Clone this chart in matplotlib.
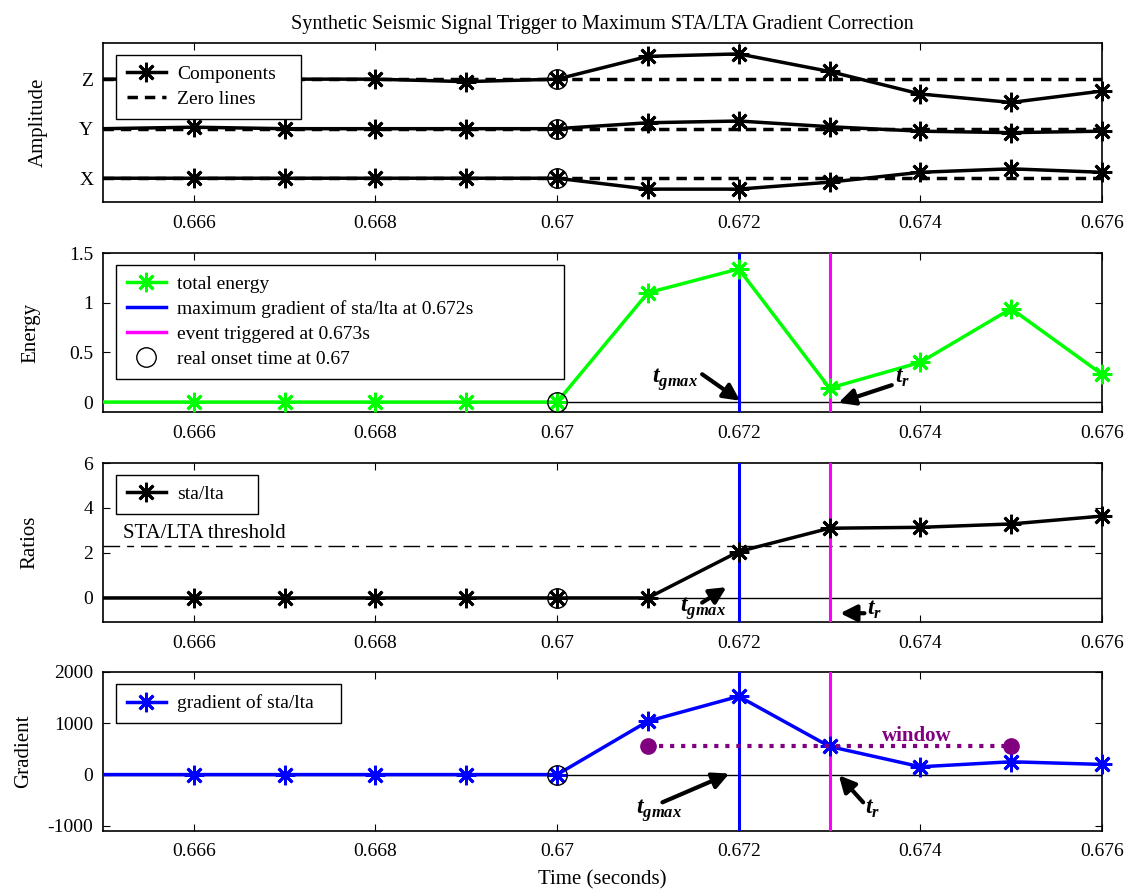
import numpy as np
import matplotlib.pyplot as plt
from matplotlib.lines import Line2D

plt.rcParams['font.family'] = ['Liberation Serif', 'DejaVu Serif']
plt.rcParams['mathtext.fontset'] = 'custom'
plt.rcParams['mathtext.bf'] = 'Liberation Serif:italic:bold'
plt.rcParams['font.size'] = 14
plt.rcParams['axes.unicode_minus'] = False

# sample times (s)
time = [0.665, 0.666, 0.667, 0.668, 0.669, 0.670, 0.671, 0.672, 0.673, 0.674, 0.675, 0.676]

# three components, each plotted around its own offset
comp_names = ['X', 'Y', 'Z']
comp_offsets = [1, 2, 3]
comp_x = [0, 0, 0, 0, 0, 0, -0.22, -0.22, -0.08, 0.12, 0.19, 0.12]
comp_y = [0, 0.03, 0, 0, 0, 0, 0.12, 0.155, 0.04, -0.05, -0.08, -0.05]
comp_z = [0, 0, 0, 0, -0.05, 0, 0.46, 0.51, 0.155, -0.30, -0.47, -0.24]

energy = [0, 0, 0, 0, 0, 0, 1.10, 1.34, 0.14, 0.40, 0.94, 0.28]
ratio = [0, 0, 0, 0, 0, 0, 0, 2.06, 3.10, 3.14, 3.29, 3.64]
gradient = [0, 0, 0, 0, 0, 0, 1040, 1525, 548, 152, 250, 198]

threshold = 2.3
t_onset = 0.670
t_gmax = 0.672
t_trig = 0.673
window_t = [0.671, 0.675]
window_level = 548

ast = (8, 2, 0)
MS = 14
GREEN = '#00ff00'
BLUE = '#0000ff'
MAGENTA = '#ff00ff'
PURPLE = '#800080'

fig = plt.figure(figsize=(11.36, 8.92), dpi=100)
L, W, H = 103 / 1136, 999 / 1136, 159 / 892
bottoms = [1 - 202 / 892, 1 - 412 / 892, 1 - 622 / 892, 1 - 831 / 892]
axes = [fig.add_axes([L, b, W, H]) for b in bottoms]

xt = [0.666, 0.668, 0.670, 0.672, 0.674, 0.676]
xtl = ['0.666', '0.668', '0.67', '0.672', '0.674', '0.676']
for ax in axes:
    ax.set_xlim(0.665, 0.676)
    ax.set_xticks(xt)
    ax.set_xticklabels(xtl)
    ax.tick_params(direction='in', top=True, right=True, length=5, pad=7, labelsize=14)
    ax.tick_params(axis='x', pad=9)
    for s in ax.spines.values():
        s.set_linewidth(1.2)


def series(ax, y, color, lw=2.5):
    ax.plot(time, y, color=color, lw=lw, zorder=3)
    ax.plot(time[1:], y[1:], ls='none', marker=ast, ms=MS, mew=2,
            color=color, clip_on=False, zorder=4)


def onset(ax, y):
    ax.plot([t_onset], [y], ls='none', marker='o', ms=14, mfc='none',
            mec='k', mew=1, clip_on=False, zorder=5)


def legend(ax, handles, labels, width):
    leg = ax.legend(handles, labels, loc='upper left', mode='expand',
                    bbox_to_anchor=(0.013, 0, width, 0.925),
                    borderaxespad=0, fancybox=False, framealpha=1, edgecolor='k',
                    fontsize=14, handlelength=2.0, handletextpad=0.6,
                    labelspacing=0.37, borderpad=0.55)
    leg.set_zorder(10)


arrow = dict(arrowstyle='-|>,head_length=0.7,head_width=0.35', lw=3, color='k',
             shrinkA=0, shrinkB=0, mutation_scale=14)


def tag(ax, label, text_xy, tail, head):
    ax.annotate('', xy=head, xytext=tail, arrowprops=arrow, zorder=6)
    ax.text(text_xy[0], text_xy[1], label, ha='left', va='baseline',
            fontsize=17, zorder=6)


gmax_lbl = r'$\mathbf{t}_{\mathbf{gmax}}$'
trig_lbl = r'$\mathbf{t}_{\mathbf{r}}$'

# --- components
ax = axes[0]
for off, comp in zip(comp_offsets, [comp_x, comp_y, comp_z]):
    ax.axhline(off, color='k', ls=(0, (3, 2)), lw=2.5, zorder=2)
    series(ax, [off + v for v in comp], 'k')
    onset(ax, off)
ax.set_ylim(0.52, 3.73)
ax.set_yticks(comp_offsets)
ax.set_yticklabels(comp_names)
ax.set_ylabel('Amplitude', fontsize=15)
ax.yaxis.set_label_coords(-0.055, 0.5)
ax.set_title('Synthetic Seismic Signal Trigger to Maximum STA/LTA Gradient Correction',
             fontsize=14.5, pad=10)
legend(ax, [Line2D([], [], color='k', lw=2.5, marker=ast, ms=MS, mew=2),
            Line2D([], [], color='k', lw=2.5, ls=(0, (3, 2)))],
       ['Components', 'Zero lines'], 0.185)

# --- energy
ax = axes[1]
ax.axhline(0, color='k', lw=1, zorder=2)
series(ax, energy, GREEN)
ax.axvline(t_gmax, color=BLUE, lw=2.2, zorder=3)
ax.axvline(t_trig, color=MAGENTA, lw=2.2, zorder=3)
onset(ax, 0)
ax.set_ylim(-0.1, 1.5)
ax.set_yticks([0, 0.5, 1, 1.5])
ax.set_yticklabels(['0', '0.5', '1', '1.5'])
ax.set_ylabel('Energy', fontsize=15)
ax.yaxis.set_label_coords(-0.063, 0.5)
tag(ax, gmax_lbl, (0.67104, 0.19), (0.671597, 0.28), (0.672015, 0.013))
tag(ax, trig_lbl, (0.67372, 0.19), (0.673685, 0.17), (0.673098, -0.007))
legend(ax, [Line2D([], [], color=GREEN, lw=2.5, marker=ast, ms=MS, mew=2),
            Line2D([], [], color=BLUE, lw=2.5),
            Line2D([], [], color=MAGENTA, lw=2.5),
            Line2D([], [], ls='none', marker='o', ms=14, mfc='none', mec='k', mew=1)],
       ['total energy', 'maximum gradient of sta/lta at 0.672s',
        'event triggered at 0.673s', 'real onset time at 0.67'], 0.448)

# --- sta/lta
ax = axes[2]
ax.axhline(0, color='k', lw=1, zorder=2)
ax.axhline(threshold, color='k', lw=1, ls=(0, (12, 5, 5, 5)), zorder=2)
ax.text(0.66522, threshold + 0.15, 'STA/LTA threshold', ha='left', va='bottom', fontsize=15)
series(ax, ratio, 'k')
ax.axvline(t_gmax, color=BLUE, lw=2.2, zorder=3)
ax.axvline(t_trig, color=MAGENTA, lw=2.2, zorder=3)
onset(ax, 0)
ax.set_ylim(-1.07, 6)
ax.set_yticks([0, 2, 4, 6])
ax.set_ylabel('Ratios', fontsize=15)
ax.yaxis.set_label_coords(-0.064, 0.5)
tag(ax, gmax_lbl, (0.671355, -0.62), (0.671597, -0.21), (0.671865, 0.48))
tag(ax, trig_lbl, (0.673414, -0.76), (0.673384, -0.68), (0.673117, -0.68))
legend(ax, [Line2D([], [], color='k', lw=2.5, marker=ast, ms=MS, mew=2)],
       ['sta/lta'], 0.142)

# --- gradient
ax = axes[3]
ax.axhline(0, color='k', lw=1, zorder=2)
series(ax, gradient, BLUE)
ax.axvline(t_gmax, color=BLUE, lw=2.2, zorder=3)
ax.axvline(t_trig, color=MAGENTA, lw=2.2, zorder=3)
onset(ax, 0)
ax.plot(window_t, [window_level, window_level], color=PURPLE, ls=':', lw=3,
        marker='o', ms=11, zorder=5)
ax.text(0.67396, window_level + 10, 'window', color=PURPLE,
        fontweight='bold', fontsize=15, ha='center', va='bottom', zorder=6)
ax.set_ylim(-1100, 2000)
ax.set_yticks([-1000, 0, 1000, 2000])
ax.set_ylabel('Gradient', fontsize=15)
ax.yaxis.set_label_coords(-0.070, 0.5)
ax.set_xlabel('Time (seconds)', fontsize=15, labelpad=7)
tag(ax, gmax_lbl, (0.67087, -772), (0.671160, -541), (0.671896, 20))
tag(ax, trig_lbl, (0.673392, -772), (0.673370, -541), (0.673102, -14))
legend(ax, [Line2D([], [], color=BLUE, lw=2.5, marker=ast, ms=MS, mew=2)],
       ['gradient of sta/lta'], 0.225)

fig.savefig('out.png', dpi=100)
